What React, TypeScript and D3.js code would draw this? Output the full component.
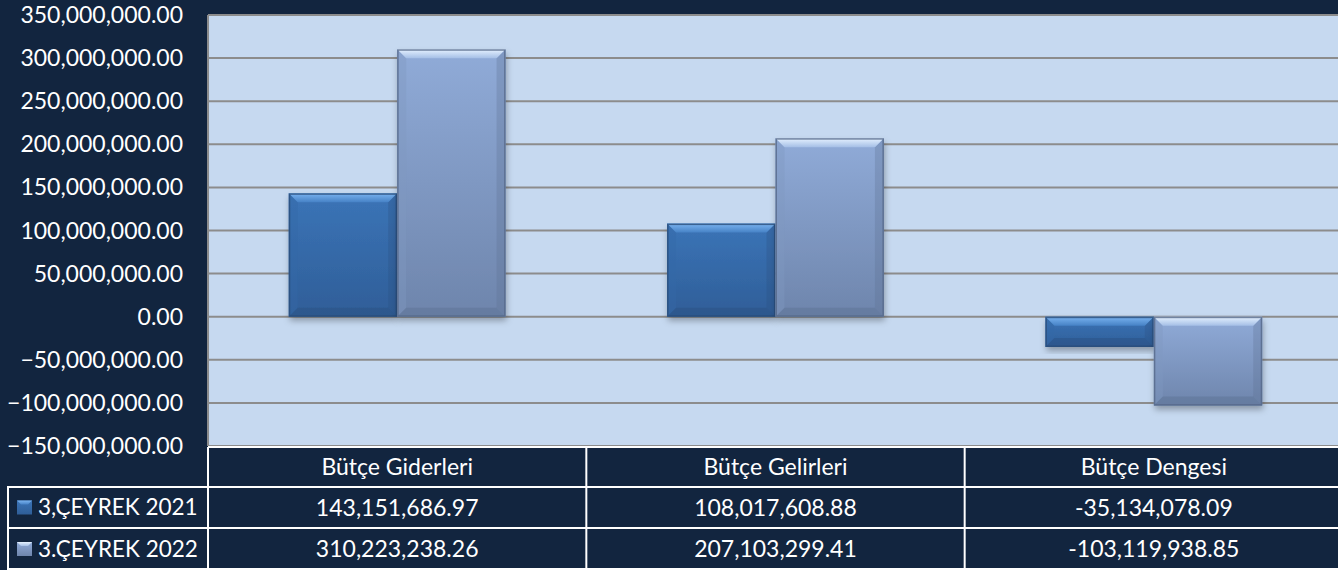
import React from "react";
import * as d3 from "d3";

const categories = ["Bütçe Giderleri", "Bütçe Gelirleri", "Bütçe Dengesi"];
const seriesNames = ["3,ÇEYREK 2021", "3.ÇEYREK 2022"];
const values2021 = [143151686.97, 108017608.88, -35134078.09];
const values2022 = [310223238.26, 207103299.41, -103119938.85];
const tableText2021 = ["143,151,686.97", "108,017,608.88", "-35,134,078.09"];
const tableText2022 = ["310,223,238.26", "207,103,299.41", "-103,119,938.85"];
const yTicks = [-150e6, -100e6, -50e6, 0, 50e6, 100e6, 150e6, 200e6, 250e6, 300e6, 350e6];

const W = 1338;
const H = 570;
const plotL = 208;
const plotR = 1343;
const plotT = 15;
const plotB = 446;
const rowY = [447, 487, 528, 570];
const FONT = "Lato, 'Open Sans', sans-serif";

const palette = [
  { top: "#3b74b7", bottom: "#2f5e98", hiA: "#7ab3f0", hiB: "#4682c6", side: "#3469a8", dark: "#2a4f80", edge: "#2b4d7a" },
  { top: "#90abd8", bottom: "#6e85ac", hiA: "#e6f2ff", hiB: "#a5bfe6", side: "#8098c0", dark: "#5c7093", edge: "#56698a" },
];

export default function App() {
  const series = [values2021, values2022];
  const y = d3.scaleLinear().domain([-150e6, 350e6]).range([plotB, plotT]);
  const x0 = d3.scaleBand<string>().domain(categories).range([plotL, plotR]).paddingInner(0).paddingOuter(0);
  const x1 = d3
    .scaleBand<string>()
    .domain(seriesNames)
    .range([0, x0.bandwidth()])
    .paddingInner(0)
    .paddingOuter(0.745);
  const fmt = d3.format(",.2f");

  const bevel = 9;

  return (
    <div style={{ position: "fixed", left: 0, top: 0 }}>
      <svg width={W} height={H} style={{ display: "block", background: "#12253f" }}>
        <defs>
          {palette.map((p, i) => (
            <React.Fragment key={i}>
              <linearGradient id={`g${i}`} x1="0" y1="0" x2="0" y2="1">
                <stop offset="0" stopColor={p.top} />
                <stop offset="1" stopColor={p.bottom} />
              </linearGradient>
              <linearGradient id={`h${i}`} x1="0" y1="0" x2="0" y2="1">
                <stop offset="0" stopColor={p.hiA} />
                <stop offset="1" stopColor={p.hiB} />
              </linearGradient>
            </React.Fragment>
          ))}
          <filter id="shadow" x="-20%" y="-20%" width="140%" height="140%">
            <feDropShadow dx="1" dy="4" stdDeviation="3" floodColor="#000" floodOpacity="0.3" />
          </filter>
        </defs>
        <rect x={plotL} y={plotT} width={plotR - plotL} height={plotB - plotT} fill="#c6d9f0" />
        {yTicks.map((t) => (
          <line key={t} x1={plotL} x2={plotR} y1={y(t)} y2={y(t)} stroke="#8c8c8c" strokeWidth={2} />
        ))}
        <line x1={plotL} x2={plotL} y1={plotT} y2={plotB} stroke="#8c8c8c" strokeWidth={2} />
        {yTicks.map((t) => (
          <text
            key={t}
            x={183}
            y={y(t)}
            dy="0.35em"
            textAnchor="end"
            fill="#ffffff"
            fontFamily={FONT}
            fontSize={23}
          >
            {fmt(t)}
          </text>
        ))}
        {categories.map((c, ci) =>
          seriesNames.map((s, si) => {
            const v = series[si][ci];
            const bx = (x0(c) as number) + (x1(s) as number);
            const bw = x1.bandwidth();
            const y0 = y(0);
            const yv = y(v);
            const top = Math.min(y0, yv);
            const bh = Math.abs(yv - y0);
            const p = palette[si];
            const b = Math.min(bevel, bh / 2);
            const r = bx + bw;
            const btm = top + bh;
            return (
              <g key={c + s}>
                <rect x={bx} y={top} width={bw} height={bh} fill={`url(#g${si})`} filter="url(#shadow)" />
                <polygon
                  points={`${bx},${top} ${bx},${btm} ${bx + b},${btm - b} ${bx + b},${top + b}`}
                  fill={p.side}
                  opacity={0.4}
                />
                <polygon
                  points={`${r},${top} ${r},${btm} ${r - b},${btm - b} ${r - b},${top + b}`}
                  fill={p.dark}
                  opacity={0.3}
                />
                <polygon
                  points={`${bx},${btm} ${r},${btm} ${r - b},${btm - b} ${bx + b},${btm - b}`}
                  fill={p.dark}
                  opacity={0.45}
                />
                <polygon
                  points={`${bx},${top} ${r},${top} ${r - b},${top + b} ${bx + b},${top + b}`}
                  fill={`url(#h${si})`}
                />
                <rect
                  x={bx + 0.75}
                  y={top + 0.75}
                  width={bw - 1.5}
                  height={Math.max(0, bh - 1.5)}
                  fill="none"
                  stroke={p.edge}
                  strokeWidth={1.5}
                  opacity={0.8}
                />
              </g>
            );
          })
        )}
        {/* data table */}
        <g stroke="#ffffff" strokeWidth={2}>
          <line x1={plotL} x2={plotR} y1={rowY[0]} y2={rowY[0]} />
          <line x1={7} x2={plotR} y1={rowY[1]} y2={rowY[1]} />
          <line x1={7} x2={plotR} y1={rowY[2]} y2={rowY[2]} />
          <line x1={7} x2={plotR} y1={rowY[3] - 1} y2={rowY[3] - 1} />
          <line x1={8} x2={8} y1={rowY[1]} y2={rowY[3]} />
          {categories.map((c) => (
            <line key={c} x1={x0(c) as number} x2={x0(c) as number} y1={rowY[0]} y2={rowY[3]} />
          ))}
        </g>
        {categories.map((c) => (
          <text
            key={c}
            x={(x0(c) as number) + x0.bandwidth() / 2}
            y={(rowY[0] + rowY[1]) / 2}
            dy="0.35em"
            textAnchor="middle"
            fill="#ffffff"
            fontFamily={FONT}
            fontSize={23}
          >
            {c}
          </text>
        ))}
        {[tableText2021, tableText2022].map((row, ri) =>
          row.map((t, ci) => (
            <text
              key={`${ri}-${ci}`}
              x={(x0(categories[ci]) as number) + x0.bandwidth() / 2}
              y={(rowY[ri + 1] + rowY[ri + 2]) / 2}
              dy="0.35em"
              textAnchor="middle"
              fill="#ffffff"
              fontFamily={FONT}
              fontSize={23}
            >
              {t}
            </text>
          ))
        )}
        {seriesNames.map((s, si) => {
          const cy = (rowY[si + 1] + rowY[si + 2]) / 2;
          return (
            <g key={s}>
              <rect x={17} y={cy - 7} width={15} height={14} fill={`url(#g${si})`} />
              <polygon points={`17,${cy - 7} 32,${cy - 7} 28,${cy - 3} 21,${cy - 3}`} fill={`url(#h${si})`} />
              <text x={38} y={cy} dy="0.35em" fill="#ffffff" fontFamily={FONT} fontSize={22.5}>
                {s}
              </text>
            </g>
          );
        })}
      </svg>
    </div>
  );
}
